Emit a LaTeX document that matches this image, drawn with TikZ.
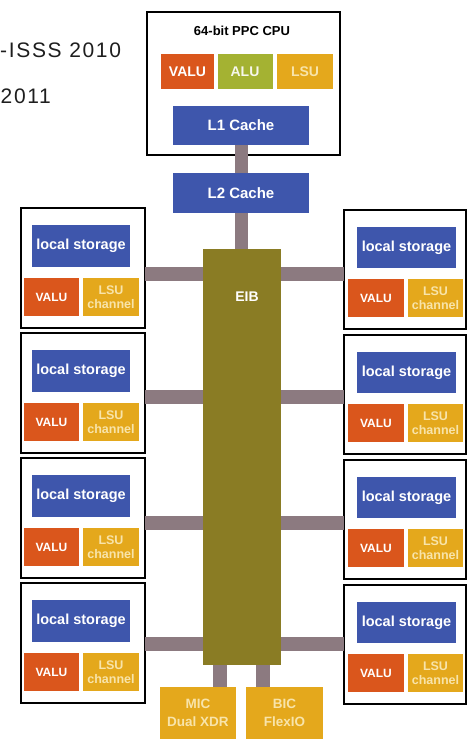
\documentclass[tikz,border=0pt]{standalone}
\usepackage{fontspec}
\setmainfont{Liberation Sans}
\newfontfamily\hdrfont[LetterSpace=8]{Liberation Sans}
\definecolor{bluec}{RGB}{62,86,172}
\definecolor{valuc}{RGB}{218,86,28}
\definecolor{aluc}{RGB}{164,178,50}
\definecolor{lsuc}{RGB}{228,168,28}
\definecolor{lsutxt}{RGB}{248,228,170}
\definecolor{eibc}{RGB}{138,124,36}
\definecolor{busc}{RGB}{140,122,128}
\definecolor{inkc}{RGB}{30,30,30}
\begin{document}
\begin{tikzpicture}[x=1pt,y=-1pt,
  blk/.style={draw=none,inner sep=0pt,outer sep=0pt,text=white,font=\bfseries,align=center},
  frame/.style={draw=black,line width=1.4pt,fill=white,inner sep=0pt,outer sep=0pt},
  bus/.style={draw=busc,line width=14pt},
  lsfont/.style={font=\bfseries\fontsize{14.5}{15}\selectfont},
  valufont/.style={font=\bfseries\fontsize{12}{13}\selectfont},
  chfont/.style={text=lsutxt,font=\bfseries\fontsize{12.5}{13.5}\selectfont},
  hdr/.style={anchor=base west,inner sep=0pt,text=inkc,font=\hdrfont\fontsize{21}{21}\selectfont}
]
\useasboundingbox (0,0) rectangle (467,739);
\fill[white] (0,0) rectangle (467,739);

% header text
\node[hdr] (hdr1) at (0,57) {-ISSS 2010};
\node[hdr] (hdr2) at (0.5,103) {2011};

% CPU
\node[frame,minimum width=193pt,minimum height=143pt] (cpu) at (243.5,83.5) {};
\node[inner sep=0pt,font=\bfseries\fontsize{13}{13}\selectfont] (cputitle) at (242,31) {64-bit PPC CPU};
\node[blk,fill=valuc,minimum width=53pt,minimum height=35pt,font=\bfseries\fontsize{14}{14}\selectfont] (cvalu) at (187.5,71.5) {VALU};
\node[blk,fill=aluc,minimum width=55pt,minimum height=35pt,text=white!90!aluc,font=\bfseries\fontsize{14}{14}\selectfont] (calu) at (245,71.5) {ALU};
\node[blk,fill=lsuc,minimum width=56pt,minimum height=35pt,text=lsutxt,font=\bfseries\fontsize{14}{14}\selectfont] (clsu) at (305,71.5) {LSU};
\node[blk,fill=bluec,minimum width=136pt,minimum height=39pt,font=\bfseries\fontsize{15}{15}\selectfont] (l1) at (241,125.5) {L1 Cache};
\node[blk,fill=bluec,minimum width=136pt,minimum height=40pt,font=\bfseries\fontsize{15}{15}\selectfont] (l2) at (241,193) {L2 Cache};

% EIB
\node[blk,fill=eibc,minimum width=78pt,minimum height=416pt] (eib) at (242,457) {};
\node[inner sep=0pt,text=white,font=\bfseries\fontsize{14}{14}\selectfont] (eibt) at (247,297) {EIB};

% MIC / BIC
\node[blk,fill=lsuc,minimum width=76pt,minimum height=52pt,text=lsutxt,font=\bfseries\fontsize{13.5}{18}\selectfont] (mic) at (198,713) {MIC\\Dual XDR};
\node[blk,fill=lsuc,minimum width=77pt,minimum height=52pt,text=lsutxt,font=\bfseries\fontsize{13.5}{18}\selectfont] (bic) at (284.5,713) {BIC\\FlexIO};

% vertical buses
\draw[bus,line width=13pt] (l1.south) -- (l2.north);
\draw[bus,line width=13pt] (l2.south) -- (l2.south |- eib.north);
\coordinate (micx) at (220,665);
\coordinate (bicx) at (262.5,665);
\draw[bus] (micx) -- (micx |- mic.north);
\draw[bus] (bicx) -- (bicx |- bic.north);

% SPEs
\foreach \k/\T/\B in {1/208/274, 2/333/397, 3/458/523, 4/583/644} {
  % left
  \node[frame,minimum width=124pt,minimum height=120pt] (spl\k) at (83,\T+60) {};
  \node[blk,fill=bluec,lsfont,minimum width=98pt,minimum height=42pt] (lsl\k) at (81,\T+38) {local storage};
  \node[blk,fill=valuc,valufont,minimum width=55pt,minimum height=38pt] (val\k) at (51.5,\T+89) {VALU};
  \node[blk,fill=lsuc,chfont,minimum width=56pt,minimum height=38pt] (lsul\k) at (111,\T+89) {LSU\\channel};
  % right
  \node[frame,minimum width=122pt,minimum height=119pt] (spr\k) at (405,\T+61.5) {};
  \node[blk,fill=bluec,lsfont,minimum width=99pt,minimum height=41pt] (lsr\k) at (406.5,\T+39.5) {local storage};
  \node[blk,fill=valuc,valufont,minimum width=56pt,minimum height=38pt] (var\k) at (376,\T+90) {VALU};
  \node[blk,fill=lsuc,chfont,minimum width=55pt,minimum height=38pt] (lsur\k) at (435.5,\T+90) {LSU\\channel};
  % buses
  \coordinate (by\k) at (0,\B);
  \draw[bus] (spl\k.east |- by\k) -- (eib.west |- by\k);
  \draw[bus] (eib.east |- by\k) -- (spr\k.west |- by\k);
}
\end{tikzpicture}
\end{document}
